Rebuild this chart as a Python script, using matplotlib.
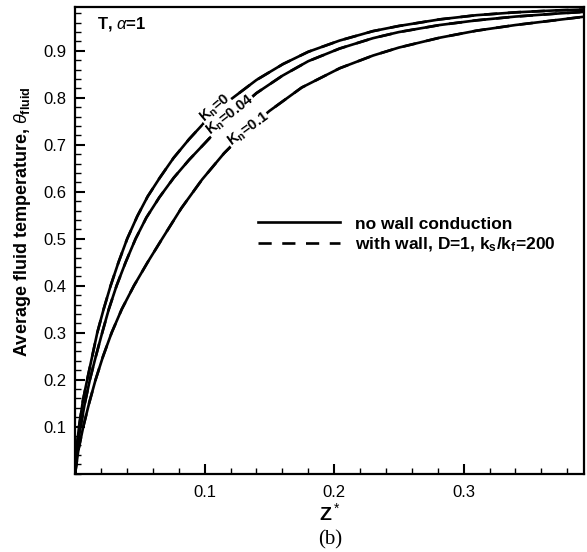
import matplotlib
matplotlib.use('Agg')
import matplotlib.pyplot as plt
from matplotlib.ticker import MultipleLocator, FixedLocator

plt.rcParams['font.family'] = ['Liberation Sans', 'DejaVu Sans']
plt.rcParams['mathtext.fontset'] = 'custom'
plt.rcParams['mathtext.rm'] = 'Liberation Sans'
plt.rcParams['mathtext.it'] = 'Liberation Sans:italic'
plt.rcParams['mathtext.bf'] = 'Liberation Sans:bold'

# values
z_kn0 = [0, 0.001, 0.003, 0.006, 0.0093, 0.0132, 0.0171, 0.022, 0.0274, 0.0335, 0.0402, 0.048,
         0.056, 0.0654, 0.076, 0.088, 0.100, 0.1194, 0.14, 0.1606, 0.18, 0.2043, 0.23, 0.25,
         0.2815, 0.31, 0.34, 0.37, 0.393]
t_kn0 = [0, 0.05, 0.1, 0.155, 0.2, 0.25, 0.3, 0.35, 0.4, 0.45, 0.5, 0.548,
         0.59, 0.630, 0.672, 0.712, 0.748, 0.795, 0.838, 0.872, 0.898, 0.922, 0.942, 0.953,
         0.967, 0.976, 0.982, 0.986, 0.988]

z_kn004 = [0, 0.0015, 0.0042, 0.0075, 0.0114, 0.016, 0.0209, 0.026, 0.032, 0.039, 0.0467, 0.055,
           0.065, 0.0762, 0.088, 0.100, 0.12, 0.14, 0.16, 0.18, 0.2043, 0.23, 0.25, 0.2815,
           0.31, 0.34, 0.37, 0.393]
t_kn004 = [0, 0.05, 0.1, 0.15, 0.2, 0.25, 0.3, 0.35, 0.4, 0.45, 0.5, 0.545,
           0.588, 0.63, 0.668, 0.703, 0.762, 0.81, 0.847, 0.878, 0.905, 0.927, 0.940, 0.955,
           0.965, 0.973, 0.979, 0.983]

z_kn01 = [0, 0.0025, 0.0063, 0.0108, 0.0158, 0.0216, 0.0282, 0.036, 0.0454, 0.056, 0.0672, 0.082,
          0.098, 0.115, 0.133, 0.150, 0.175, 0.2043, 0.23, 0.25, 0.2815, 0.31, 0.34, 0.37, 0.393]
t_kn01 = [0, 0.05, 0.1, 0.15, 0.2, 0.25, 0.3, 0.35, 0.4, 0.45, 0.5, 0.565,
          0.626, 0.682, 0.732, 0.772, 0.822, 0.863, 0.890, 0.907, 0.928, 0.943, 0.955, 0.965, 0.9727]

curve_labels = [r'K$_\mathbf{n}$=0', r'K$_\mathbf{n}$=0.04', r'K$_\mathbf{n}$=0.1']
label_z = [0.108, 0.120, 0.1336]
label_t = [0.778, 0.763, 0.733]
label_rot = [40, 38, 36]

fig = plt.figure(figsize=(5.87, 5.52), dpi=100)
ax = fig.add_axes([0.128, 0.142, 0.867, 0.845])

curves = [(z_kn0, t_kn0), (z_kn004, t_kn004), (z_kn01, t_kn01)]
for i, (z, t) in enumerate(curves):
    ax.plot(z, t, color='black', lw=1.9, ls='-',
            label='no wall conduction' if i == 0 else None)
    ax.plot(z, t, color='black', lw=1.9, ls=(0, (5, 4)),
            label=r'with wall, D=1, k$_\mathbf{s}$/k$_\mathbf{f}$=200' if i == 0 else None)

for lab, zz, tt, rot in zip(curve_labels, label_z, label_t, label_rot):
    ax.text(zz, tt, lab, fontsize=10.5, fontweight='bold', rotation=rot,
            ha='center', va='center', rotation_mode='anchor',
            bbox=dict(facecolor='white', edgecolor='none', pad=0.3))

ax.set_xlim(0, 0.393)
ax.set_ylim(0, 0.993)
ax.xaxis.set_major_locator(FixedLocator([0.1, 0.2, 0.3]))
ax.xaxis.set_minor_locator(MultipleLocator(0.02))
ax.yaxis.set_major_locator(FixedLocator([0.1, 0.2, 0.3, 0.4, 0.5, 0.6, 0.7, 0.8, 0.9]))
ax.yaxis.set_minor_locator(MultipleLocator(0.02))
ax.tick_params(which='both', direction='in', top=False, right=False, labelsize=12)
ax.tick_params(which='major', length=7, width=1.5)
ax.tick_params(which='minor', length=4, width=1.0)
ax.tick_params(axis='x', pad=8)
ax.tick_params(axis='y', pad=6)
for s in ax.spines.values():
    s.set_linewidth(1.6)

ax.set_xlabel(r'Z$^*$', fontsize=14, fontweight='bold', labelpad=2)
ax.set_ylabel(r'Average fluid temperature, $\theta_{\mathbf{fluid}}$', fontsize=13,
              fontweight='bold')
ax.yaxis.set_label_coords(-0.083, 0.541)

ax.text(0.043, 0.983, r'T, $\alpha$=1', transform=ax.transAxes, fontsize=12,
        fontweight='bold', ha='left', va='top')

ax.legend(loc='upper left', bbox_to_anchor=(0.328, 0.585), frameon=False,
          handlelength=4.75, handletextpad=0.85, labelspacing=0.25,
          prop={'weight': 'bold', 'size': 12.5})

fig.text(0.562, 0.022, '(b)', fontsize=15, family='Liberation Serif',
         ha='center', va='center')

fig.savefig('out.png', dpi=100)
